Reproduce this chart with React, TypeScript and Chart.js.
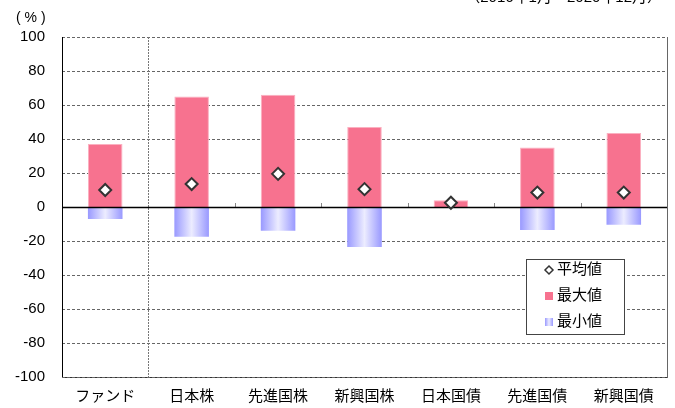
import React, { useEffect, useRef } from "react";
import { Chart, registerables } from "chart.js";

Chart.register(...registerables);

const categories = ["ファンド", "日本株", "先進国株", "新興国株", "日本国債", "先進国債", "新興国債"];
const maxValues = [37, 65, 66, 47, 4, 35, 43.5];
const minValues = [-7, -17.5, -14, -23.5, -0.5, -13.5, -10.5];
const avgValues = [10, 13.5, 19.5, 10.5, 2.5, 8.5, 8.5];
const yTicks = [100, 80, 60, 40, 20, 0, -20, -40, -60, -80, -100];
const legendLabels = ["平均値", "最大値", "最小値"];
const unitLabel = "( % )";
const periodLabel = "（2016年1月～2020年12月）";

const FONT = '"Liberation Sans", "Noto Sans CJK JP", Arial, sans-serif';
const PINK = "#f7728f";
const BAR_PCT = 0.4;

function blueGradient(ctx: CanvasRenderingContext2D, x0: number, x1: number) {
  const g = ctx.createLinearGradient(x0, 0, x1, 0);
  g.addColorStop(0, "#9999ff");
  g.addColorStop(0.5, "#ececff");
  g.addColorStop(1, "#9999ff");
  return g;
}

const decorPlugin = {
  id: "decor",
  beforeDatasetsDraw(chart: any) {
    const { ctx, chartArea } = chart;
    const y = chart.scales.y;
    const { left, right, top, bottom } = chartArea;
    ctx.save();
    ctx.lineWidth = 1;
    ctx.strokeStyle = "#666";
    ctx.setLineDash([3, 2]);
    for (const v of yTicks) {
      if (v === 0) continue;
      const py = Math.round(y.getPixelForValue(v)) + 0.5;
      ctx.beginPath();
      ctx.moveTo(left, py);
      ctx.lineTo(right, py);
      ctx.stroke();
    }
    const catW = (right - left) / categories.length;
    const sx = Math.round(left + catW) + 0.5;
    ctx.strokeStyle = "#777";
    ctx.setLineDash([2, 1]);
    ctx.beginPath();
    ctx.moveTo(sx, top);
    ctx.lineTo(sx, bottom);
    ctx.stroke();
    ctx.setLineDash([]);
    ctx.strokeStyle = "#000";
    ctx.beginPath();
    ctx.moveTo(Math.round(left) + 0.5, top);
    ctx.lineTo(Math.round(left) + 0.5, bottom);
    ctx.stroke();
    ctx.strokeStyle = "#666";
    ctx.beginPath();
    ctx.moveTo(Math.round(right) + 0.5, top);
    ctx.lineTo(Math.round(right) + 0.5, bottom + 1);
    ctx.stroke();
    const zy = Math.round(y.getPixelForValue(0));
    ctx.strokeStyle = "#888";
    for (let i = 2; i < categories.length; i++) {
      const bx = Math.round(left + catW * i) + 0.5;
      ctx.beginPath();
      ctx.moveTo(bx, zy - 4);
      ctx.lineTo(bx, zy);
      ctx.stroke();
    }
    ctx.fillStyle = "#000";
    ctx.font = "14px " + FONT;
    ctx.textAlign = "left";
    ctx.textBaseline = "middle";
    ctx.fillText(unitLabel, 16, 18);
    ctx.textAlign = "right";
    ctx.textBaseline = "alphabetic";
    ctx.font = "15px " + FONT;
    ctx.fillText(periodLabel, 662, 2);
    ctx.restore();
  },
  beforeDatasetDraw(chart: any, args: any) {
    if (args.index !== 2) return;
    const { ctx, chartArea } = chart;
    const zy = Math.round(chart.scales.y.getPixelForValue(0)) + 0.5;
    ctx.save();
    ctx.strokeStyle = "#000";
    ctx.lineWidth = 1.5;
    ctx.beginPath();
    ctx.moveTo(chartArea.left, zy);
    ctx.lineTo(chartArea.right, zy);
    ctx.stroke();
    ctx.restore();
  },
  afterDatasetsDraw(chart: any) {
    const { ctx } = chart;
    ctx.save();
    ctx.fillStyle = "#fff";
    ctx.fillRect(526, 259, 98, 75);
    ctx.strokeStyle = "#444";
    ctx.lineWidth = 1;
    ctx.strokeRect(526.5, 259.5, 98, 75);
    const cx = 549, cy = 270, r = 4;
    ctx.beginPath();
    ctx.moveTo(cx, cy - r);
    ctx.lineTo(cx + r, cy);
    ctx.lineTo(cx, cy + r);
    ctx.lineTo(cx - r, cy);
    ctx.closePath();
    ctx.fillStyle = "#fff";
    ctx.fill();
    ctx.strokeStyle = "#333";
    ctx.lineWidth = 1.5;
    ctx.stroke();
    ctx.fillStyle = PINK;
    ctx.fillRect(545, 292, 8, 8);
    ctx.fillStyle = blueGradient(ctx, 545, 553);
    ctx.fillRect(545, 318, 8, 8);
    ctx.fillStyle = "#000";
    ctx.font = "15px " + FONT;
    ctx.textAlign = "left";
    ctx.textBaseline = "middle";
    ctx.fillText(legendLabels[0], 557, 270);
    ctx.fillText(legendLabels[1], 557, 296);
    ctx.fillText(legendLabels[2], 557, 322);
    ctx.restore();
  },
};

export default function App() {
  const ref = useRef<HTMLCanvasElement>(null);
  useEffect(() => {
    document.body.style.margin = "0";
    const canvas = ref.current!;
    const chart = new Chart(canvas, {
      type: "bar",
      data: {
        labels: categories,
        datasets: [
          {
            type: "bar",
            label: legendLabels[1],
            data: maxValues,
            backgroundColor: PINK,
            borderColor: "#fbb0c0",
            borderWidth: { left: 1, right: 1, top: 1, bottom: 0 },
            borderSkipped: false,
            stack: "s",
            barPercentage: BAR_PCT,
            categoryPercentage: 1,
            order: 2,
          } as any,
          {
            type: "bar",
            label: legendLabels[2],
            data: minValues,
            backgroundColor: (c: any) => {
              const ch = c.chart;
              const area = ch.chartArea;
              if (!area || !ch.scales.x) return "#b0b0ff";
              const cx = ch.scales.x.getPixelForValue(c.dataIndex);
              const w = ((area.right - area.left) / categories.length) * BAR_PCT;
              return blueGradient(ch.ctx, cx - w / 2, cx + w / 2);
            },
            borderWidth: 0,
            stack: "s",
            barPercentage: BAR_PCT,
            categoryPercentage: 1,
            order: 1,
          } as any,
          {
            type: "line",
            label: legendLabels[0],
            data: avgValues,
            showLine: false,
            pointStyle: "rectRot",
            pointRadius: 6,
            pointBackgroundColor: "#fff",
            pointBorderColor: "#333",
            pointBorderWidth: 2,
            order: 0,
          } as any,
        ],
      },
      options: {
        responsive: false,
        animation: false,
        layout: { padding: { top: 37, right: 6, bottom: 0, left: 0 } },
        plugins: { legend: { display: false }, tooltip: { enabled: false }, title: { display: false } },
        scales: {
          x: {
            stacked: true,
            grid: { display: false, drawTicks: false },
            border: { display: true, color: "#333", width: 1, dash: [3, 2] },
            ticks: { color: "#000", font: { family: FONT, size: 15 }, padding: 11, maxRotation: 0, autoSkip: false },
            afterFit: (s: any) => { s.height = 31; },
          },
          y: {
            stacked: true,
            min: -100,
            max: 100,
            grid: { display: false, drawTicks: false },
            border: { display: false },
            ticks: { stepSize: 20, color: "#000", font: { family: FONT, size: 15 }, padding: 17 },
            afterFit: (s: any) => { s.width = 62; },
          },
        },
      },
      plugins: [decorPlugin],
    });
    return () => chart.destroy();
  }, []);
  return <canvas ref={ref} width={675} height={408} style={{ display: "block" }} />;
}
